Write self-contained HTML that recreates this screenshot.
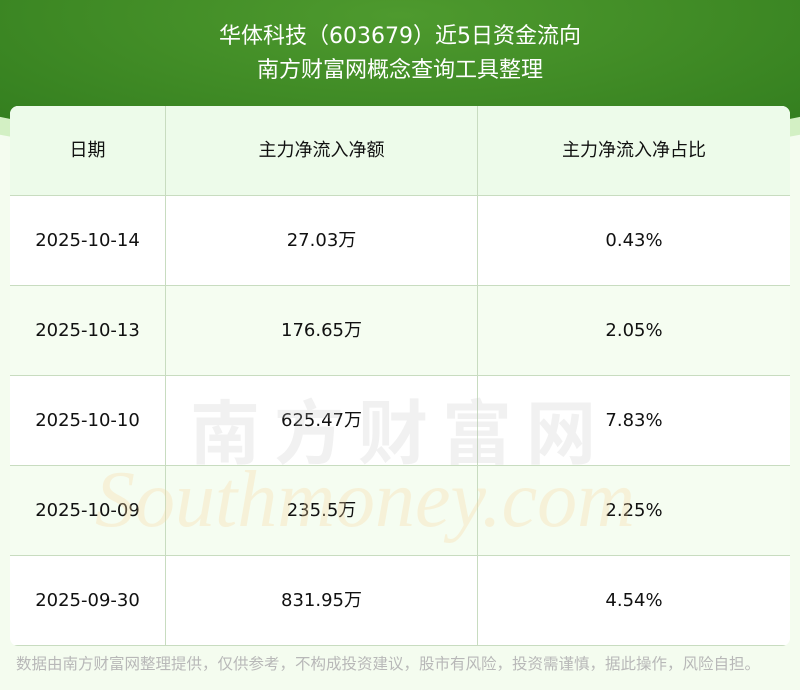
<!DOCTYPE html>
<html><head><meta charset="utf-8"><style>
body{margin:0;width:800px;height:690px;overflow:hidden;background:#f4fcef;font-family:"DejaVu Sans","Noto Sans CJK SC",sans-serif;position:relative}
.hdr2{position:absolute;left:-60px;top:60px;width:920px;height:100px;border-radius:50%;background:#d3f0c4;}
.hdr{position:absolute;left:-60px;top:-40px;width:920px;height:185px;border-radius:0 0 50% 50%/0 0 30% 30%;background:radial-gradient(ellipse at 50% 30%,#4e9a2e 0%,#3f8a25 50%,#2f7a1d 100%);}
.t{position:absolute;left:0;width:800px;text-align:center;color:#fff;font-size:22px;line-height:30px}
table{position:absolute;left:10px;top:106px;width:780px;border-collapse:collapse;background:#fff;border-radius:8px;overflow:hidden;font-size:18px;color:#111;line-height:24px}
td{border:1px solid #c8dcc0;text-align:center;height:89px;padding:0;vertical-align:middle}
tr:first-child td{border-top:none;background:#edfbea}
tr td:first-child{border-left:none}tr td:last-child{border-right:none}
.g td{background:#f5fdf1}
.wm{position:absolute;left:190px;top:378px;font-size:70px;color:rgba(190,190,190,0.22);letter-spacing:14px;font-weight:bold;font-family:"Noto Sans CJK SC",sans-serif}
.wm2{position:absolute;left:95px;top:455px;font-size:80px;color:rgba(250,215,160,0.3);font-family:"Liberation Serif",serif;font-style:italic}
.f{position:absolute;left:16px;top:652px;font-size:15.5px;color:#b8b8b8;font-family:"Noto Sans CJK SC",sans-serif}
</style></head><body>
<div class="hdr2"></div><div class="hdr"></div>
<div class="t" style="top:22px">华体科技（603679）近5日资金流向</div>
<div class="t" style="top:56px">南方财富网概念查询工具整理</div>
<table>
<tr><td style="width:155px">日期</td><td style="width:311px">主力净流入净额</td><td>主力净流入净占比</td></tr>
<tr><td>2025-10-14</td><td>27.03万</td><td>0.43%</td></tr>
<tr class="g"><td>2025-10-13</td><td>176.65万</td><td>2.05%</td></tr>
<tr><td>2025-10-10</td><td>625.47万</td><td>7.83%</td></tr>
<tr class="g"><td>2025-10-09</td><td>235.5万</td><td>2.25%</td></tr>
<tr><td>2025-09-30</td><td>831.95万</td><td>4.54%</td></tr>
</table>
<div class="wm">南方财富网</div>
<div class="wm2">Southmoney.com</div>
<div class="f">数据由南方财富网整理提供，仅供参考，不构成投资建议，股市有风险，投资需谨慎，据此操作，风险自担。</div>
</body></html>
